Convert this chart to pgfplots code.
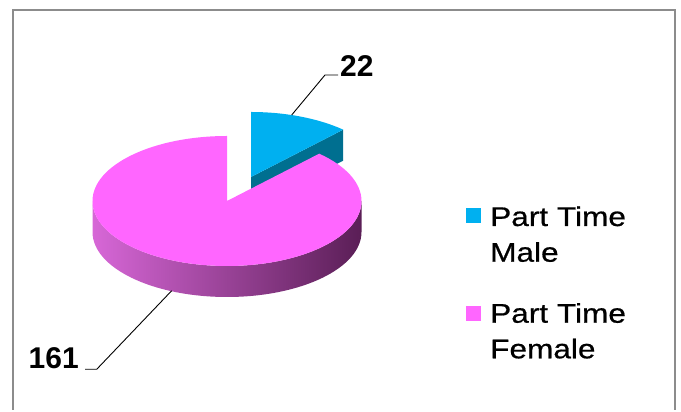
\documentclass[border=0pt]{standalone}
\usepackage{fontspec}
\setmainfont{Liberation Sans}
\newfontfamily\legfont[FakeStretch=1.17,FakeBold=0.6]{Liberation Sans}
\usepackage{pgfplots}
\pgfplotsset{compat=1.18}

\definecolor{maleTop}{HTML}{00B0F0}
\definecolor{maleSide}{HTML}{006F90}
\definecolor{femTop}{HTML}{FF66FF}
\definecolor{femSideL}{HTML}{D767D7}
\definecolor{femSideM}{HTML}{A03FA0}
\definecolor{femSideR}{HTML}{5A1E56}
\definecolor{frame}{HTML}{8C8C8C}

\begin{document}
\begin{tikzpicture}
\begin{axis}[
    width=681pt, height=410pt,
    scale only axis,
    xmin=0, xmax=681, ymin=0, ymax=410,
    hide axis,
    clip=false
]
% values
\pgfmathsetmacro{\vM}{22}
\pgfmathsetmacro{\vF}{161}
\pgfmathsetmacro{\aS}{90-360*\vM/(\vM+\vF)}
% pie geometry (1 unit = 1pt)
\def\rx{134.5}
\def\ry{65}
\def\dep{31}
\def\cx{227}
\def\cy{209}
\def\bx{251}
\def\by{233}
\pgfmathsetmacro{\ex}{\bx+\rx*cos(\aS)}
\pgfmathsetmacro{\ey}{\by+\ry*sin(\aS)}

\path (0,0) rectangle (681,410);
% frame
\draw[frame, line width=2.4pt] (13,0) -- (13,400) -- (675,400) -- (675,0);

% exploded male slice: cut wall, then top face
\fill[maleSide] (\bx,\by) -- (\ex,\ey) -- (\ex,\ey-\dep) -- (\bx,\by-\dep) -- cycle;
\fill[maleTop] (\bx,\by) -- (\ex,\ey) arc[start angle=\aS, end angle=90, x radius=\rx pt, y radius=\ry pt] -- cycle;

% female slice: front side, then top face
\shade[left color=femSideL, middle color=femSideM, right color=femSideR]
    (\cx-\rx,\cy) arc[start angle=180, end angle=360, x radius=\rx pt, y radius=\ry pt]
    -- (\cx+\rx,\cy-\dep) arc[start angle=360, end angle=180, x radius=\rx pt, y radius=\ry pt] -- cycle;
\fill[femTop] (\cx,\cy) -- (\cx,\cy+\ry) arc[start angle=90, end angle=360+\aS, x radius=\rx pt, y radius=\ry pt] -- cycle;

% data labels with leader lines
\draw[black, line width=0.9pt] (291.7,295) -- (325,335) -- (338,335);
\node[anchor=base west, inner sep=0pt, font=\fontsize{30}{36}\selectfont\bfseries] at (340,333) {22};
\draw[black, line width=0.9pt] (171.7,119.3) -- (96.7,40.7) -- (85,40.7);
\node[anchor=base east, inner sep=0pt, font=\fontsize{30}{36}\selectfont\bfseries] at (79,41.7) {161};

% legend
\fill[maleTop] (466,187) rectangle (481,202);
\fill[femTop] (466,89) rectangle (481,104);
\node[anchor=base west, inner sep=0pt, font=\fontsize{27}{32}\legfont] at (490,184) {Part Time};
\node[anchor=base west, inner sep=0pt, font=\fontsize{27}{32}\legfont] at (490,148.3) {Male};
\node[anchor=base west, inner sep=0pt, font=\fontsize{27}{32}\legfont] at (490,87.3) {Part Time};
\node[anchor=base west, inner sep=0pt, font=\fontsize{27}{32}\legfont] at (490,51.7) {Female};
\end{axis}
\end{tikzpicture}
\end{document}
